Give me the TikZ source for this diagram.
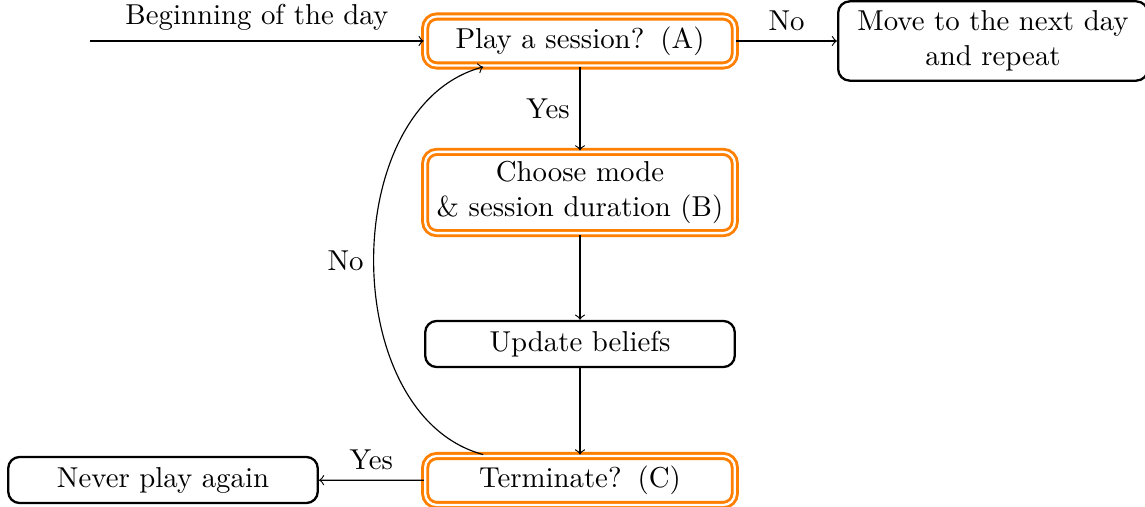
\documentclass[tikz,border=0pt]{standalone}
\begin{document}
\begin{tikzpicture}[x=0.3472pt,y=0.3472pt,
  box/.style={draw, thick, rounded corners=4pt, minimum width=107.5pt,
    minimum height=16pt, align=center, inner sep=3.33pt},
  keybox/.style={box, draw=orange, line width=1pt, double=white,
    double distance=0.8pt, minimum height=17pt},
  flow/.style={->}]
\useasboundingbox (0,0) rectangle (1145,-507);

% main column of decisions and steps
\node[keybox] (A) at (580,-41) {Play a session?\hspace{5.6pt}(A)};
\node[keybox] (B) at (580,-192.5) {Choose mode\\ \& session duration (B)};
\node[box] (U) at (580,-344) {Update beliefs};
\node[keybox] (C) at (580,-480.5) {Terminate?\hspace{5.6pt}(C)};

% outcomes on either side
\node[box] (M) at (993,-41) {Move to the next day\\ and repeat};
\node[box] (N) at (163,-480) {Never play again};

\coordinate (start) at (90,-41);

\draw[flow] (start) -- node[above] {Beginning of the day} (A);
\draw[flow] (A) -- node[above] {No} (M);
\draw[flow] (A) -- node[left] {Yes} (B);
\draw[flow] (B) -- (U);
\draw[flow] (U) -- (C);
\draw[flow] (C) -- node[above] {Yes} (N);
\draw[flow] (C) to[bend left=75] node[left] {No} (A);
\end{tikzpicture}
\end{document}
